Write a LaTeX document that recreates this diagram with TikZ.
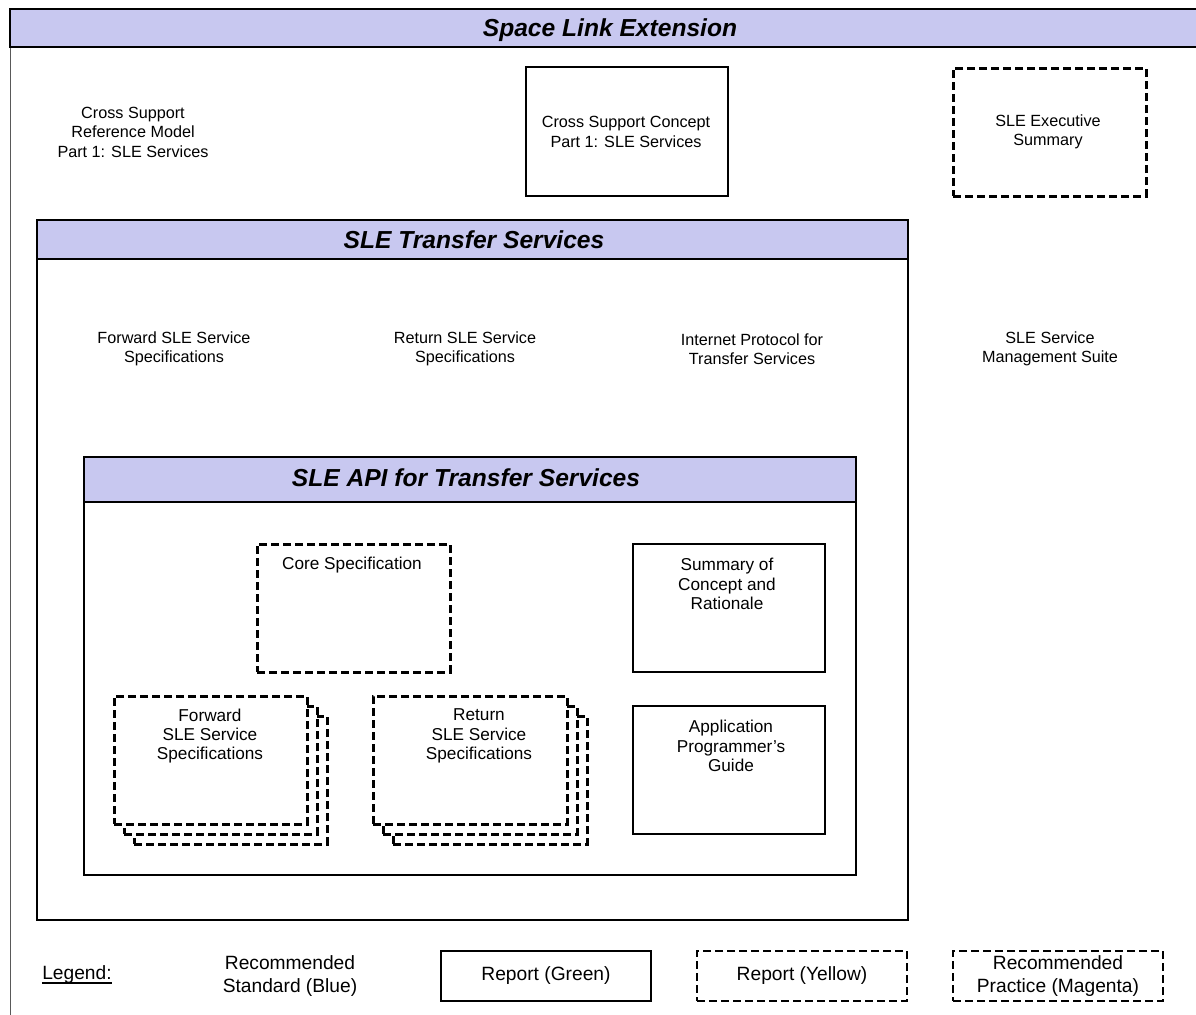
\documentclass[tikz,border=0pt]{standalone}
\usepackage{fontspec}
\setmainfont{Liberation Sans}
\usetikzlibrary{positioning}
\definecolor{slehead}{RGB}{200,200,240}

\tikzset{
  plainbox/.style={draw, line width=0.7pt, fill=white, inner sep=0pt, outer sep=0pt, anchor=north west},
  dashbox/.style={draw, line width=1.5pt, dash pattern=on 4pt off 2pt, fill=white, inner sep=0pt, outer sep=0pt, anchor=north west},
  headband/.style={draw, line width=1pt, fill=slehead, inner sep=0pt, outer sep=0pt, anchor=north west},
  framebox/.style={draw, line width=1pt, inner sep=0pt, outer sep=0pt, anchor=north west},
  doctext/.style={align=center, font=\fontsize{8.1}{9.75}\selectfont, inner sep=0pt},
  apitext/.style={align=center, font=\fontsize{8.6}{9.6}\selectfont, inner sep=0pt},
  legtext/.style={align=center, font=\fontsize{9.6}{11.5}\selectfont, inner sep=0pt},
  headtitle/.style={font=\fontsize{12.3}{14}\selectfont\bfseries\itshape, inner sep=0pt},
}

\begin{document}
\begin{tikzpicture}[x=0.5pt,y=-0.5pt]
      \useasboundingbox (0,0) rectangle (1196,1014);
      \clip (0,0) rectangle (1196,1014);
      % outer frame
      \draw[gray!70!black, line width=0.5pt] (10,47) -- (10,1020);
      \node[headband, minimum width=600pt, minimum height=19pt] (sleband) at (10,9) {};
      \node[headtitle] (sletitle) at (610,30) {Space Link Extension};
      % top row
      \node[doctext] (csrm) at (133,132) {Cross Support\\Reference Model\\Part 1: SLE Services};
      \node[plainbox, minimum width=101pt, minimum height=64.5pt] (concept) at (526,67) {};
      \node[doctext] (concepttxt) at (626,132) {Cross Support Concept\\Part 1: SLE Services};
      \node[dashbox, minimum width=96.5pt, minimum height=64pt] (exec) at (953,68) {};
      \node[doctext] (exectxt) at (1048,132) {SLE Executive\\Summary};
      % transfer services
      \node[framebox, minimum width=435.5pt, minimum height=350pt] (transfer) at (37,220) {};
      \node[headband, minimum width=435.5pt, minimum height=19.5pt] (transferband) at (37,220) {};
      \node[headtitle] (transfertitle) at (474,240) {SLE Transfer Services};
      \node[doctext] (fwdspec) at (174,349) {Forward SLE Service\\Specifications};
      \node[doctext] (retspec) at (465,349) {Return SLE Service\\Specifications};
      \node[doctext] (ipspec) at (752,349) {Internet Protocol for\\Transfer Services};
      \node[doctext] (mgmt) at (1050,349) {SLE Service\\Management Suite};
      % api
      \node[framebox, minimum width=386pt, minimum height=209pt] (api) at (84,457) {};
      \node[headband, minimum width=386pt, minimum height=22.5pt] (apiband) at (84,457) {};
      \node[headtitle] (apititle) at (466,478) {SLE API for Transfer Services};
      \node[dashbox, minimum width=96.5pt, minimum height=64pt] (core) at (257,544) {};
      \node[apitext] (coretxt) at (352,565) {Core Specification};
      \node[plainbox, minimum width=96pt, minimum height=64pt] (summary) at (633,544) {};
      \node[apitext] (summarytxt) at (727,584) {Summary of\\Concept and\\Rationale};
      \node[plainbox, minimum width=96pt, minimum height=64pt] (guide) at (633,706) {};
      \node[apitext] (guidetxt) at (731,746) {Application\\Programmer's\\Guide};
      % stacked specifications
      \foreach \k in {2,1,0} {
        \node[dashbox, minimum width=96.5pt, minimum height=64pt] (fwd\k) at (114+10*\k,696+10*\k) {};
        \node[dashbox, minimum width=97pt, minimum height=64pt] (ret\k) at (373+10*\k,696+10*\k) {};
      }
      \node[apitext] (fwdtxt) at (210,736) {Forward\\SLE Service\\Specifications};
      \node[apitext] (rettxt) at (479,736) {Return\\SLE Service\\Specifications};
      % legend
      \node[legtext] (legend) at (77,975) {Legend:};
      \draw[line width=0.6pt] ([yshift=-1.5pt]legend.base west) -- ([yshift=-1.5pt]legend.base east);
      \node[legtext] (legblue) at (290,976) {Recommended\\Standard (Blue)};
      \node[plainbox, minimum width=105pt, minimum height=25pt] (leggreen) at (441,951) {};
      \node[legtext] (leggreentxt) at (546,976) {Report (Green)};
      \node[dashbox, line width=1.1pt, minimum width=105pt, minimum height=25pt] (legyellow) at (697,951) {};
      \node[legtext] (legyellowtxt) at (802,976) {Report (Yellow)};
      \node[dashbox, line width=1.1pt, minimum width=105pt, minimum height=25pt] (legmagenta) at (953,951) {};
      \node[legtext] (legmagentatxt) at (1058,976) {Recommended\\Practice (Magenta)};
\end{tikzpicture}
\end{document}
